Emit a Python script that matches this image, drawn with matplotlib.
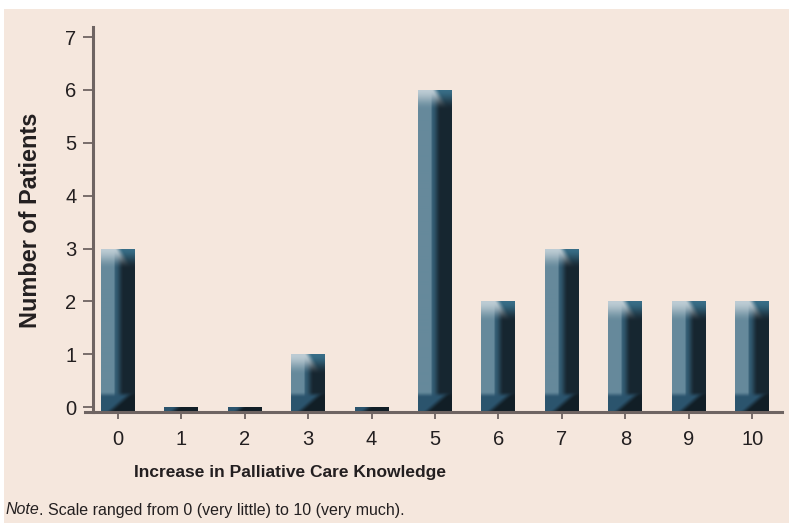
import numpy as np
import matplotlib
matplotlib.use('Agg')
import matplotlib.pyplot as plt
from matplotlib.patches import Rectangle

# data
scores = [0, 1, 2, 3, 4, 5, 6, 7, 8, 9, 10]
patients = [3, 0, 0, 1, 0, 6, 2, 3, 2, 2, 2]
yticks = [0, 1, 2, 3, 4, 5, 6, 7]
xlabel = 'Increase in Palliative Care Knowledge'
ylabel = 'Number of Patients'
note_head = 'Note'
note_rest = '. Scale ranged from 0 (very little) to 10 (very much).'

bg = '#F5E7DD'
axis_col = '#6E6462'
text_col = '#231F20'
plt.rcParams['font.family'] = ['Liberation Sans', 'DejaVu Sans']

W, H, DPI = 789, 523, 100
fig = plt.figure(figsize=(W / DPI, H / DPI), dpi=DPI, facecolor='white')
fig.patches.append(Rectangle((4 / W, 0), 1, 1 - 9 / H, transform=fig.transFigure,
                             facecolor=bg, edgecolor='none', zorder=-10))

ax = fig.add_axes([93 / W, (H - 412) / H, (782 - 93) / W, (412 - 27) / H])
ax.set_facecolor(bg)
ymin, ymax = -0.09, 7.19
ax.set_xlim(-0.39, 10.47)
ax.set_ylim(ymin, ymax)

for s in ['top', 'right']:
    ax.spines[s].set_visible(False)
for s in ['left', 'bottom']:
    ax.spines[s].set_color(axis_col)
    ax.spines[s].set_linewidth(2.2)
ax.spines['bottom'].set_bounds(-0.52, 10.47)

ax.set_yticks(yticks)
ax.set_xticks(scores)
ax.tick_params(axis='y', length=7, width=1.3, color=axis_col, labelsize=14.5,
               labelcolor=text_col, pad=5)
ax.tick_params(axis='x', length=5, width=1.3, color=axis_col, labelsize=14.5,
               labelcolor=text_col, pad=8)

renderer = fig.canvas.get_renderer()


def fit_size(txt, target_px, size0=12):
    # scale a label so that its length is close to the reference
    ext = txt.get_window_extent(renderer)
    span = max(ext.width, ext.height)
    txt.set_fontsize(size0 * target_px / span)


xl = ax.set_xlabel(xlabel, fontsize=12, fontweight='bold', color=text_col)
ax.xaxis.set_label_coords((290 - 93) / (782 - 93), -(472 - 412) / (412 - 27))
xl.set_va('center')
fit_size(xl, 310)
yl = ax.set_ylabel(ylabel, fontsize=12, fontweight='bold', color=text_col)
ax.yaxis.set_label_coords(-(93 - 31) / (782 - 93), (412 - 220) / (412 - 27))
yl.set_va('center')
fit_size(yl, 215)


def smooth(z):
    z = np.clip(z, 0, 1)
    return z * z * (3 - 2 * z)


# gradient shading for the bars
def bar_image(nrows, ncols=34, band=20):
    u = np.linspace(0, 1, ncols)[None, :]
    r = np.arange(nrows)[:, None]
    light = np.array([0.40, 0.54, 0.61])
    mid = np.array([0.20, 0.36, 0.45])
    dark = np.array([0.09, 0.15, 0.19])
    t = smooth((u - 0.36) / 0.08)[..., None]
    base = light * (1 - t) + mid * t
    t2 = smooth((u - 0.42) / 0.26)[..., None]
    img = base * (1 - t2) + dark * t2
    img = np.broadcast_to(img, (nrows, ncols, 3)).copy()
    # top band: pale at the upper left, mid blue at the upper right
    diag = smooth((u - 0.38 - (r / band) * 0.35) / 0.25)[..., None]
    hl = np.array([0.74, 0.80, 0.83])
    hr = np.array([0.22, 0.43, 0.53])
    top_col = hl * (1 - diag) + hr * diag
    a = (1 - smooth(r / band))[..., None] * np.ones((1, ncols, 1))
    img = img * (1 - a) + top_col * a
    # bottom shadow, darker at the lower right
    rb = nrows - 1 - r
    inband = (1 - smooth((rb - band + 6) / 6))[..., None] * np.ones((1, ncols, 1))
    sh_left = np.array([0.17, 0.33, 0.43])
    sh_right = np.array([0.07, 0.12, 0.15])
    dd = smooth((u - 0.1 - (rb / band) * 0.7) / 0.3)[..., None]
    sh = sh_left * (1 - dd) + sh_right * dd
    img = img * (1 - inband) + sh * inband
    return np.clip(img, 0, 1)


px_per_unit = ax.bbox.height / (ymax - ymin)
width = 0.535
for x, v in zip(scores, patients):
    h = v - ymin
    bars = ax.bar(x, h, bottom=ymin, width=width, color='none', edgecolor='none')
    rect = bars[0]
    nrows = max(int(round(h * px_per_unit)), 2)
    im = ax.imshow(bar_image(nrows), extent=[x - width / 2, x + width / 2, ymin, v],
                   aspect='auto', interpolation='bilinear', zorder=2)
    im.set_clip_path(rect)

ax.set_xlim(-0.39, 10.47)
ax.set_ylim(ymin, ymax)

nt = fig.text(5 / W, 1 - 510 / H, note_head, fontsize=12, style='italic',
              color=text_col, va='center', ha='left')
nr = fig.text(0, 1 - 510 / H, note_rest, fontsize=12, color=text_col,
              va='center', ha='left')
scale = 400 / (nt.get_window_extent(renderer).width + nr.get_window_extent(renderer).width)
nt.set_fontsize(12 * scale)
nr.set_fontsize(12 * scale)
head_w = nt.get_window_extent(renderer).width
nr.set_x((5 + head_w) / W)

fig.savefig('out.png', dpi=DPI, facecolor='white')
